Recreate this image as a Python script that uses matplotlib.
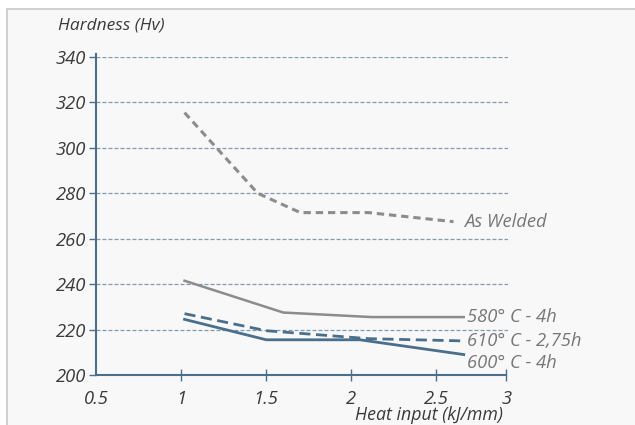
import matplotlib
matplotlib.use("Agg")
import matplotlib.pyplot as plt
from matplotlib.patches import Rectangle

# data
as_welded_x = [1.02, 1.45, 1.70, 2.10, 2.60]
as_welded_y = [315.5, 280, 271.5, 271.5, 267.5]

t580_x = [1.02, 1.60, 2.12, 2.66]
t580_y = [241.5, 227.5, 225.5, 225.5]

t610_x = [1.02, 1.50, 2.10, 2.66]
t610_y = [227, 219.5, 216, 215]

t600_x = [1.02, 1.50, 2.05, 2.66]
t600_y = [224.5, 215.5, 215.5, 209]

series_labels = ["As Welded", "580° C - 4h", "610° C - 2,75h", "600° C - 4h"]

x_ticks = [0.5, 1, 1.5, 2, 2.5, 2.91]
x_ticklabels = ["0.5", "1", "1.5", "2", "2.5", "3"]
y_ticks = [200, 220, 240, 260, 280, 300, 320, 340]

blue = "#4a6f8c"
grey = "#8c8c8c"
grid_c = "#7f9bb3"
txt = "#3a3a3a"
font = "Open Sans"

fig = plt.figure(figsize=(6.35, 4.25), dpi=100)
fig.patch.set_facecolor("white")
fig.patches.append(Rectangle((7 / 635, -0.1), 1.2, (425 - 9) / 425 + 0.1,
                             transform=fig.transFigure, facecolor="#f8f8f8",
                             edgecolor="#c8c8c8", linewidth=1.2, zorder=-1))

ax = fig.add_axes([96 / 635, 50 / 425, 412 / 635, 318 / 425])
ax.set_zorder(2)
ax.set_facecolor("none")
ax.set_xlim(0.5, 2.92)
ax.set_ylim(200, 340)

for s in ["top", "right"]:
    ax.spines[s].set_visible(False)
for s in ["left", "bottom"]:
    ax.spines[s].set_color(blue)
    ax.spines[s].set_linewidth(1.5)
ax.spines["left"].set_bounds(200, 341.5)
ax.spines["bottom"].set_bounds(0.5, 2.91)

# dashed guide lines
ax.hlines(y_ticks[1:], 0.5, 2.92, colors=grid_c, linestyles=(0, (3.2, 1.6)),
          linewidth=0.9, zorder=1)

ax.set_yticks(y_ticks)
ax.set_yticklabels([str(v) for v in y_ticks])
ax.set_xticks(x_ticks)
ax.set_xticklabels(x_ticklabels)
ax.tick_params(axis="y", direction="out", length=5, width=1, color=blue,
               pad=2, labelsize=13.2, labelcolor=txt)
ax.tick_params(axis="x", direction="inout", length=9, width=1, color=blue,
               pad=6, labelsize=13.2, labelcolor=txt)
ax.xaxis.get_major_ticks()[0].tick1line.set_visible(False)
for lab in ax.get_xticklabels() + ax.get_yticklabels():
    lab.set_fontfamily(font)
    lab.set_fontstyle("italic")
for lab in ax.get_yticklabels():
    lab.set_verticalalignment("center_baseline")

ax.plot(as_welded_x, as_welded_y, color=grey, lw=2.2, ls=(0, (2.4, 1.6)),
        zorder=3)
ax.plot(t580_x, t580_y, color=grey, lw=1.8, zorder=3)
ax.plot(t610_x, t610_y, color=blue, lw=2.0, ls=(0, (4, 2)), zorder=3)
ax.plot(t600_x, t600_y, color=blue, lw=2.0, zorder=3)

label_pos = [(2.66, 267.5), (2.68, 225.5), (2.68, 215), (2.68, 205.5)]
for lab, (lx, ly) in zip(series_labels, label_pos):
    ax.text(lx, ly, lab, fontsize=13.2, color="#777777", family=font,
            style="italic", va="center", ha="left")

fig.text(58 / 635, 1 - 25 / 425, "Hardness (Hv)", fontsize=12.5, color=txt,
         family=font, style="italic", va="center", ha="left")
fig.text(503 / 635, 1 - 415 / 425, "Heat input (kJ/mm)", fontsize=12.8,
         color=txt, family=font, style="italic", va="center", ha="right")

fig.savefig("out.png", dpi=100)
